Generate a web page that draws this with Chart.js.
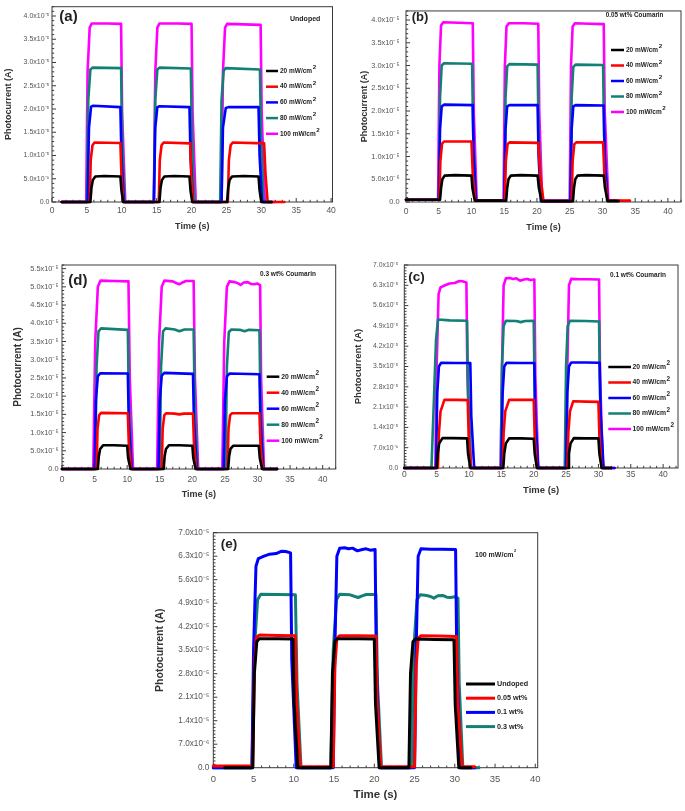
<!DOCTYPE html>
<html>
<head>
<meta charset="utf-8">
<script src="https://cdn.jsdelivr.net/npm/chart.js@4.4.1/dist/chart.umd.min.js"></script>
<style>
  html, body { margin: 0; padding: 0; background: #ffffff; }
  body { width: 685px; height: 811px; position: relative; overflow: hidden; }
  canvas { position: absolute; }
</style>
</head>
<body>
<canvas id="cA" width="340" height="240" style="left:0px;top:0px;"></canvas>
<canvas id="cB" width="340" height="240" style="left:345px;top:0px;"></canvas>
<canvas id="cD" width="340" height="255" style="left:0px;top:250px;"></canvas>
<canvas id="cC" width="340" height="250" style="left:345px;top:250px;"></canvas>
<canvas id="cE" width="400" height="291" style="left:150px;top:520px;"></canvas>
<script>
// ---------------- DATA (photocurrent in units of 1e-5 A, time in s) ----------------
const xTicks = [0, 5, 10, 15, 20, 25, 30, 35, 40];
const xTickLabels = ['0', '5', '10', '15', '20', '25', '30', '35', '40'];

const yTicks05 = [0, 0.5, 1.0, 1.5, 2.0, 2.5, 3.0, 3.5, 4.0];
const yLabels05 = ['0.0', '5.0x10⁻⁶', '1.0x10⁻⁵', '1.5x10⁻⁵', '2.0x10⁻⁵', '2.5x10⁻⁵', '3.0x10⁻⁵', '3.5x10⁻⁵', '4.0x10⁻⁵'];
const yTicksD = [0, 0.5, 1.0, 1.5, 2.0, 2.5, 3.0, 3.5, 4.0, 4.5, 5.0, 5.5];
const yLabelsD = ['0.0', '5.0x10⁻⁶', '1.0x10⁻⁵', '1.5x10⁻⁵', '2.0x10⁻⁵', '2.5x10⁻⁵', '3.0x10⁻⁵', '3.5x10⁻⁵', '4.0x10⁻⁵', '4.5x10⁻⁵', '5.0x10⁻⁵', '5.5x10⁻⁵'];
const yTicks07 = [0, 0.7, 1.4, 2.1, 2.8, 3.5, 4.2, 4.9, 5.6, 6.3, 7.0];
const yLabels07 = ['0.0', '7.0x10⁻⁶', '1.4x10⁻⁵', '2.1x10⁻⁵', '2.8x10⁻⁵', '3.5x10⁻⁵', '4.2x10⁻⁵', '4.9x10⁻⁵', '5.6x10⁻⁵', '6.3x10⁻⁵', '7.0x10⁻⁵'];

const intensityLabels = ['20 mW/cm²', '40 mW/cm²', '60 mW/cm²', '80 mW/cm²', '100 mW/cm²'];
const dopingLabels = ['Undoped', '0.05 wt%', '0.1 wt%', '0.3 wt%'];

// (a) Undoped
const a20 = [[1.4,0],[5.5,0],[5.65,0.3],[5.85,0.47],[6.2,0.55],[7.5,0.56],[9.8,0.55],[9.95,0.25],[10.2,0],[15.4,0],[15.55,0.3],[15.75,0.47],[16.1,0.55],[17.5,0.56],[19.7,0.55],[19.85,0.25],[20.1,0],[25.1,0],[25.25,0.3],[25.45,0.47],[25.8,0.55],[27.5,0.56],[29.6,0.55],[29.75,0.25],[30.0,0],[31.5,0]];
const a40 = [[1.4,0],[5.4,0],[5.55,0.9],[5.8,1.22],[6.1,1.28],[9.8,1.27],[9.95,0.6],[10.2,0],[15.3,0],[15.45,0.9],[15.7,1.22],[16.0,1.28],[19.8,1.26],[19.95,0.6],[20.2,0],[25.2,0],[25.35,0.9],[25.6,1.22],[25.9,1.28],[30.4,1.26],[30.6,0.6],[30.9,0],[33.3,0]];
const a60 = [[1.4,0],[5.1,0],[5.3,1.6],[5.6,2.05],[5.9,2.07],[9.8,2.04],[9.95,1.0],[10.3,0],[14.6,0],[14.8,1.6],[15.1,2.04],[15.4,2.06],[19.7,2.04],[19.85,1.0],[20.2,0],[24.3,0],[24.5,1.6],[24.9,2.02],[25.3,2.04],[29.6,2.04],[29.75,1.0],[30.1,0],[31.5,0]];
const a80 = [[1.4,0],[5.0,0],[5.2,2.2],[5.5,2.85],[5.8,2.89],[9.9,2.88],[10.05,1.4],[10.4,0],[14.6,0],[14.8,2.2],[15.1,2.85],[15.4,2.89],[19.9,2.87],[20.05,1.4],[20.4,0],[24.1,0],[24.3,2.2],[24.6,2.82],[24.9,2.88],[29.8,2.85],[29.95,1.4],[30.3,0],[31.5,0]];
const a100 = [[1.4,0],[4.9,0],[5.1,2.8],[5.4,3.75],[5.7,3.84],[8.0,3.84],[9.9,3.83],[10.05,1.9],[10.5,0],[14.6,0],[14.8,2.8],[15.1,3.75],[15.4,3.84],[18.0,3.84],[20.0,3.83],[20.15,1.9],[20.6,0],[24.3,0],[24.5,2.8],[24.8,3.75],[25.1,3.83],[27.5,3.82],[29.9,3.81],[30.05,1.9],[30.5,0],[32.0,0]];

// (b) 0.05 wt% Coumarin
const b20 = [[0,0.05],[5.2,0.05],[5.35,0.3],[5.55,0.5],[5.9,0.58],[7.5,0.59],[10.0,0.58],[10.15,0.3],[10.5,0.03],[15.3,0.03],[15.45,0.3],[15.65,0.5],[16.0,0.58],[17.5,0.59],[20.1,0.58],[20.3,0.3],[20.7,0.02],[25.5,0.02],[25.65,0.3],[25.85,0.5],[26.2,0.58],[27.5,0.59],[30.2,0.58],[30.4,0.3],[30.8,0.02],[32.5,0.02]];
const b40 = [[0,0.05],[5.1,0.05],[5.25,0.9],[5.5,1.28],[5.8,1.33],[10.0,1.33],[10.2,0.6],[10.6,0.03],[15.1,0.03],[15.25,0.9],[15.5,1.27],[15.8,1.31],[20.2,1.30],[20.5,0.6],[21.0,0.02],[25.3,0.02],[25.45,0.9],[25.7,1.27],[26.0,1.31],[30.1,1.31],[30.3,0.6],[30.8,0.03],[34.2,0.03]];
const b60 = [[0,0.05],[5.0,0.05],[5.2,1.6],[5.45,2.1],[5.8,2.14],[10.2,2.13],[10.35,1.0],[10.7,0.03],[15.0,0.03],[15.2,1.6],[15.45,2.1],[15.8,2.13],[20.1,2.13],[20.25,1.0],[20.6,0.02],[25.1,0.02],[25.3,1.6],[25.55,2.1],[25.9,2.13],[30.2,2.12],[30.35,1.0],[30.8,0.03],[32.0,0.03]];
const b80 = [[0,0.05],[5.0,0.05],[5.2,2.3],[5.45,3.0],[5.8,3.05],[10.1,3.04],[10.25,1.5],[10.7,0.03],[15.0,0.03],[15.2,2.3],[15.45,2.98],[15.8,3.03],[20.1,3.02],[20.25,1.5],[20.7,0.02],[25.1,0.02],[25.3,2.3],[25.55,2.97],[25.9,3.02],[30.1,3.01],[30.25,1.5],[30.7,0.03],[32.0,0.03]];
const b100 = [[0,0.05],[4.9,0.05],[5.1,3.0],[5.35,3.88],[5.7,3.95],[8.0,3.94],[10.2,3.93],[10.35,2.0],[10.8,0.03],[14.9,0.03],[15.1,3.0],[15.35,3.86],[15.7,3.93],[18.0,3.93],[20.2,3.92],[20.35,2.0],[20.8,0.03],[25.0,0.03],[25.2,3.0],[25.45,3.86],[25.8,3.93],[28.0,3.92],[30.2,3.91],[30.35,2.0],[30.9,0.03],[32.5,0.03]];

// (d) 0.3 wt% Coumarin
const d20 = [[0,0],[5.5,0],[5.65,0.35],[5.85,0.55],[6.3,0.65],[8.0,0.65],[10.0,0.64],[10.15,0.3],[10.5,0],[15.6,0],[15.75,0.35],[15.95,0.55],[16.4,0.65],[18.0,0.65],[20.0,0.64],[20.15,0.3],[20.5,0],[25.5,0],[25.65,0.35],[25.85,0.55],[26.3,0.64],[28.0,0.64],[30.2,0.64],[30.35,0.3],[30.7,0],[33.0,0]];
const d40 = [[0,0],[5.3,0],[5.45,1.1],[5.7,1.48],[6.0,1.54],[10.1,1.53],[10.25,0.7],[10.6,0],[15.3,0],[15.45,1.1],[15.7,1.48],[16.0,1.53],[17.3,1.52],[18.0,1.50],[18.7,1.52],[20.1,1.52],[20.25,0.7],[20.6,0],[25.4,0],[25.55,1.1],[25.8,1.48],[26.1,1.53],[30.3,1.53],[30.45,0.7],[30.8,0],[33.0,0]];
const d60 = [[0,0],[5.0,0],[5.2,1.9],[5.5,2.55],[5.9,2.63],[10.1,2.62],[10.25,1.3],[10.7,0],[14.8,0],[15.0,1.9],[15.3,2.56],[15.7,2.64],[20.1,2.61],[20.25,1.3],[20.7,0],[24.8,0],[25.0,1.9],[25.3,2.54],[25.7,2.62],[30.3,2.60],[30.45,1.3],[30.9,0],[33.0,0]];
const d80 = [[0,0],[5.1,0],[5.3,2.8],[5.6,3.78],[6.0,3.86],[8.0,3.84],[10.1,3.82],[10.25,1.9],[10.7,0],[15.0,0],[15.2,2.8],[15.5,3.78],[15.9,3.86],[17.3,3.83],[18.0,3.78],[18.8,3.83],[20.2,3.83],[20.35,1.9],[20.8,0],[25.1,0],[25.3,2.8],[25.6,3.76],[26.0,3.83],[27.3,3.82],[28.0,3.78],[28.7,3.82],[30.3,3.81],[30.45,1.9],[30.9,0],[33.0,0]];
const d100 = [[0,0],[4.8,0],[5.1,3.5],[5.5,5.0],[5.9,5.17],[8.0,5.16],[10.2,5.15],[10.4,2.5],[10.9,0],[14.6,0],[14.9,3.5],[15.3,5.0],[15.7,5.17],[17.0,5.15],[17.6,5.10],[18.0,5.07],[18.5,5.12],[19.0,5.16],[20.2,5.16],[20.4,2.5],[20.9,0],[24.6,0],[24.9,3.5],[25.3,5.0],[25.7,5.15],[26.5,5.13],[27.0,5.10],[27.4,5.05],[27.9,5.12],[28.5,5.13],[29.0,5.08],[29.5,5.07],[30.0,5.09],[30.4,5.05],[30.55,2.5],[31.0,0],[33.0,0]];

// (c) 0.1 wt% Coumarin
const c20 = [[0,0],[5.0,0],[5.15,0.5],[5.4,0.85],[5.9,1.03],[7.5,1.03],[9.7,1.02],[9.85,0.5],[10.2,0],[15.3,0],[15.45,0.5],[15.7,0.85],[16.2,1.02],[18.0,1.02],[20.0,1.01],[20.15,0.5],[20.5,0],[25.3,0],[25.45,0.5],[25.7,0.85],[26.2,1.03],[28.0,1.02],[30.0,1.02],[30.15,0.5],[30.5,0],[32.0,0]];
const c40 = [[0,0],[5.2,0],[5.35,1.2],[5.6,1.95],[6.2,2.35],[8.0,2.35],[9.8,2.34],[9.95,1.1],[10.3,0],[15.2,0],[15.35,1.2],[15.6,1.95],[16.2,2.35],[18.0,2.35],[20.0,2.35],[20.15,1.1],[20.5,0],[25.2,0],[25.35,1.2],[25.6,1.95],[26.1,2.30],[28.0,2.29],[30.0,2.28],[30.15,1.1],[30.5,0],[32.0,0]];
const c60 = [[0,0],[4.9,0],[5.1,2.6],[5.35,3.5],[5.7,3.63],[8.0,3.62],[10.2,3.62],[10.35,1.8],[10.8,0],[15.0,0],[15.2,2.6],[15.45,3.5],[15.8,3.63],[18.0,3.62],[20.1,3.62],[20.25,1.8],[20.7,0],[25.0,0],[25.2,2.6],[25.45,3.5],[25.8,3.64],[28.0,3.64],[30.2,3.63],[30.35,1.8],[30.8,0],[32.5,0]];
const c80 = [[0,0],[4.2,0],[4.6,2.5],[4.9,4.4],[5.2,5.12],[7.0,5.09],[9.7,5.08],[9.85,2.5],[10.3,0],[14.9,0],[15.1,3.5],[15.35,4.9],[15.7,5.08],[17.3,5.07],[18.0,5.03],[18.7,5.07],[20.0,5.08],[20.15,2.5],[20.6,0],[24.8,0],[25.0,3.5],[25.25,4.9],[25.6,5.08],[28.0,5.07],[30.1,5.05],[30.25,2.5],[30.7,0],[32.0,0]];
const c100 = [[0,0],[4.8,0],[5.0,3.5],[5.3,6.0],[5.6,6.23],[6.3,6.30],[7.0,6.36],[7.8,6.38],[8.5,6.45],[9.0,6.44],[9.6,6.40],[9.75,3.2],[10.3,0],[14.9,0],[15.1,3.5],[15.35,6.3],[15.7,6.54],[16.3,6.55],[16.8,6.52],[17.3,6.54],[17.9,6.46],[18.5,6.50],[19.0,6.52],[19.5,6.48],[20.1,6.50],[20.25,3.2],[20.7,0],[25.0,0],[25.2,3.5],[25.45,6.3],[25.8,6.52],[27.0,6.51],[28.5,6.51],[30.1,6.50],[30.25,3.2],[30.7,0],[32.5,0]];

// (e) 100 mW/cm² comparison (same measurements as the 100 mW/cm² curves above)
const eUndoped = a100, e005 = b100, e01 = c100, e03 = d100;

const intensityColors = ['#000000', '#ff0000', '#0000ff', '#138075', '#ff00ff'];
const dopingColors = ['#000000', '#ff0000', '#0000ff', '#138075'];

// ---------------- DRAWING ----------------
const FONT = "'Liberation Sans', Arial, Helvetica, sans-serif";

function drawSupText(ctx, text, x, y, size, supScale, weight) {
  ctx.textBaseline = 'middle';
  ctx.textAlign = 'left';
  let base = text, sup = '';
  if (text.endsWith('²')) { base = text.slice(0, -1); sup = '2'; }
  ctx.font = `${weight} ${size}px ${FONT}`;
  ctx.fillText(base, x, y);
  if (sup) {
    const w = ctx.measureText(base).width;
    const ss = size * supScale;
    ctx.font = `${weight} ${ss}px ${FONT}`;
    ctx.fillText(sup, x + w + 0.5, y - size * 0.55);
  }
}

const decor = {
  id: 'decor',
  beforeDatasetsDraw(chart, args, o) {
    const {ctx, chartArea: a, scales: {x, y}} = chart;
    ctx.save();
    ctx.strokeStyle = '#3a3a3a';
    ctx.lineWidth = 1;
    ctx.strokeRect(a.left, a.top, a.right - a.left, a.bottom - a.top);
    ctx.beginPath();
    for (let t = 0; t <= Math.floor(x.max); t++) {
      const px = x.getPixelForValue(t);
      const len = (t % 5 === 0) ? 4 : 2.2;
      ctx.moveTo(px, a.bottom); ctx.lineTo(px, a.bottom - len);
    }
    const n = Math.floor(y.max / 0.1 + 1e-6);
    for (let k = 0; k <= n; k++) {
      const py = y.getPixelForValue(k * 0.1);
      const len = (k % o.yPerMajor === 0) ? 4 : 2.2;
      ctx.moveTo(a.left, py); ctx.lineTo(a.left + len, py);
    }
    ctx.stroke();
    ctx.restore();
  },
  afterDraw(chart, args, o) {
    const {ctx} = chart;
    ctx.save();
    const L = o.legend;
    chart.data.datasets.forEach((ds, i) => {
      const yy = L.y + i * L.dy;
      ctx.strokeStyle = ds.borderColor;
      ctx.lineWidth = L.lw;
      ctx.beginPath(); ctx.moveTo(L.x, yy); ctx.lineTo(L.x + L.len, yy); ctx.stroke();
      ctx.fillStyle = '#222';
      drawSupText(ctx, ds.label, L.x + L.len + L.gap, yy, L.size, 0.95, 'bold');
    });
    o.notes.forEach(nt => {
      ctx.fillStyle = nt.color || '#222';
      drawSupText(ctx, nt.text, nt.x, nt.y, nt.size, nt.sup || 0.95, 'bold');
    });
    ctx.restore();
  }
};

function makeChart(id, cfg) {
  return new Chart(document.getElementById(id), {
    type: 'line',
    data: {
      datasets: cfg.series.map((s, i) => ({
        label: cfg.labels[i], data: s, borderColor: cfg.colors[i], backgroundColor: cfg.colors[i],
        borderWidth: cfg.lw, pointRadius: 0, tension: 0, fill: false, clip: false,
        borderJoinStyle: 'round', borderCapStyle: 'round', order: i
      }))
    },
    options: {
      responsive: false, animation: false, events: [],
      layout: { padding: cfg.pad },
      plugins: {
        legend: { display: false }, tooltip: { enabled: false },
        decor: { legend: cfg.legend, notes: cfg.notes, yPerMajor: cfg.yPerMajor }
      },
      scales: {
        x: {
          type: 'linear', min: 0, max: cfg.xMax,
          grid: { display: false, drawTicks: false }, border: { display: false },
          afterBuildTicks: s => { s.ticks = xTicks.map(v => ({ value: v })); },
          afterFit: s => { s.height = cfg.xH; },
          ticks: { autoSkip: false, maxRotation: 0, padding: cfg.xTickPad, color: '#555',
                   font: { family: FONT, size: cfg.xTickSize }, callback: (v, i) => xTickLabels[i] },
          title: { display: true, text: 'Time (s)', color: '#333',
                   font: { family: FONT, size: cfg.xTitleSize, weight: 'bold' }, padding: { top: 0, bottom: cfg.xTitlePad } }
        },
        y: {
          type: 'linear', min: 0, max: cfg.yMax,
          grid: { display: false, drawTicks: false }, border: { display: false },
          afterBuildTicks: s => { s.ticks = cfg.yTicks.map(v => ({ value: v })); },
          afterFit: s => { s.width = cfg.yW; },
          ticks: { autoSkip: false, padding: cfg.yTickPad, color: '#555',
                   font: { family: FONT, size: cfg.yTickSize }, callback: (v, i) => cfg.yLabels[i] },
          title: { display: true, text: 'Photocurrent (A)', color: '#333',
                   font: { family: FONT, size: cfg.yTitleSize, weight: 'bold' }, padding: { top: cfg.yTitlePad, bottom: 0 } }
        }
      }
    },
    plugins: [decor]
  });
}

makeChart('cA', {
  series: [a20, a40, a60, a80, a100], labels: intensityLabels, colors: intensityColors, lw: 2.6,
  pad: { left: 0, top: 5, right: 7.5, bottom: 0 }, yW: 52, xH: 38, xMax: 40.2, yMax: 4.2,
  yTicks: yTicks05, yLabels: yLabels05, yPerMajor: 5,
  xTickPad: 3.2, xTickSize: 8.5, yTickPad: 2.5, yTickSize: 7,
  xTitleSize: 9, xTitlePad: 7.9, yTitleSize: 9, yTitlePad: 3.6,
  legend: { x: 266, y: 71, dy: 15.7, len: 12, gap: 2, lw: 2.5, size: 6.5 },
  notes: [{ text: '(a)', x: 59.3, y: 17, size: 15 }, { text: 'Undoped', x: 290, y: 19, size: 7 }]
});

makeChart('cB', {
  series: [b20, b40, b60, b80, b100], labels: intensityLabels, colors: intensityColors, lw: 2.6,
  pad: { left: 0, top: 5, right: 4, bottom: 0 }, yW: 61, xH: 38, xMax: 42, yMax: 4.2,
  yTicks: yTicks05, yLabels: yLabels05, yPerMajor: 5,
  xTickPad: 5, xTickSize: 8.5, yTickPad: 6.5, yTickSize: 7.4,
  xTitleSize: 9, xTitlePad: 6.9, yTitleSize: 9, yTitlePad: 14.6,
  legend: { x: 266, y: 50, dy: 15.5, len: 13, gap: 2, lw: 2.5, size: 6.5 },
  notes: [{ text: '(b)', x: 66.7, y: 17, size: 13 }, { text: '0.05 wt% Coumarin', x: 260.7, y: 15, size: 6.3 }]
});

makeChart('cD', {
  series: [d20, d40, d60, d80, d100], labels: intensityLabels, colors: intensityColors, lw: 2.6,
  pad: { left: 0, top: 15, right: 4.3, bottom: 0 }, yW: 62, xH: 36, xMax: 42, yMax: 5.6,
  yTicks: yTicksD, yLabels: yLabelsD, yPerMajor: 5,
  xTickPad: 5.6, xTickSize: 8.5, yTickPad: 3.5, yTickSize: 7.4,
  xTitleSize: 9, xTitlePad: 4.6, yTitleSize: 10, yTitlePad: 12,
  legend: { x: 266.7, y: 126.7, dy: 16, len: 12.6, gap: 2, lw: 2.5, size: 6.8 },
  notes: [{ text: '(d)', x: 68.3, y: 30.8, size: 15 }, { text: '0.3 wt% Coumarin', x: 260, y: 24, size: 6.5 }]
});

makeChart('cC', {
  series: [c20, c40, c60, c80, c100], labels: intensityLabels, colors: intensityColors, lw: 2.6,
  pad: { left: 0, top: 15, right: 7, bottom: 0 }, yW: 59.3, xH: 32, xMax: 42.3, yMax: 7.0,
  yTicks: yTicks07, yLabels: yLabels07, yPerMajor: 7,
  xTickPad: 1.6, xTickSize: 8.5, yTickPad: 6, yTickSize: 6.8,
  xTitleSize: 9.5, xTitlePad: 3.6, yTitleSize: 9.5, yTitlePad: 7.6,
  legend: { x: 263.3, y: 117, dy: 15.5, len: 22.7, gap: 1.5, lw: 2.5, size: 6.8 },
  notes: [{ text: '(c)', x: 63.3, y: 27.5, size: 13.5 }, { text: '0.1 wt% Coumarin', x: 265, y: 25, size: 6.5 }]
});

makeChart('cE', {
  series: [eUndoped, e005, e01, e03], labels: dopingLabels, colors: dopingColors, lw: 3,
  pad: { left: 0, top: 12.7, right: 12.3, bottom: 0 }, yW: 63.3, xH: 43.3, xMax: 40.3, yMax: 7.0,
  yTicks: yTicks07, yLabels: yLabels07, yPerMajor: 7,
  xTickPad: 6, xTickSize: 9.5, yTickPad: 4, yTickSize: 8.2,
  xTitleSize: 11.5, xTitlePad: 9.1, yTitleSize: 10.5, yTitlePad: 3.7,
  legend: { x: 316, y: 164, dy: 14.2, len: 29, gap: 2, lw: 3, size: 7.2 },
  notes: [{ text: '(e)', x: 70.7, y: 23.8, size: 13.5 }, { text: '100 mW/cm²', x: 325, y: 35, size: 7, sup: 0.55 }]
});
</script>
</body>
</html>
